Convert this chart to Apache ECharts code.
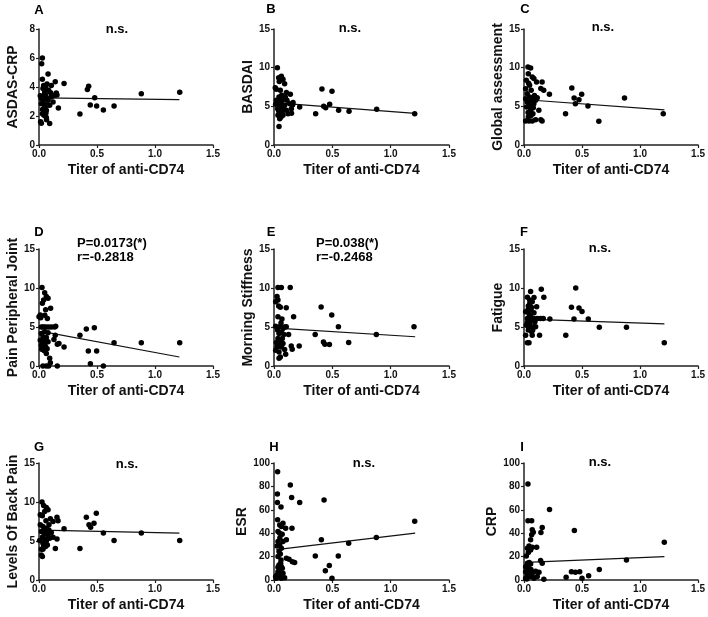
<!DOCTYPE html>
<html>
<head>
<meta charset="utf-8">
<script src="https://cdn.jsdelivr.net/npm/echarts@6/dist/echarts.min.js"></script>
<style>
  html, body { margin: 0; padding: 0; background: #fff; }
  #chart { width: 708px; height: 617px; }
</style>
</head>
<body>
<div id="chart"></div>
<script>
// panel letters and y axis names
const letters = ['A', 'B', 'C', 'D', 'E', 'F', 'G', 'H', 'I']
const yNames = ['ASDAS-CRP', 'BASDAI', 'Global assessment', 'Pain Peripheral Joint', 'Morning Stiffness',
  'Fatigue', 'Levels Of Back Pain', 'ESR', 'CRP']
const xName = 'Titer of anti-CD74'
const xTicks = [0, 0.5, 1.0, 1.5]
const yMax = [8, 15, 15, 15, 15, 15, 15, 100, 100]
const yStep = [2, 5, 5, 5, 5, 5, 5, 20, 20]

// [titer, score]
const ptsA = [[0.029,6.0],[0.023,5.6],[0.029,4.53],[0.078,4.9],[0.14,4.37],[0.216,4.25],[0.106,4.1],[0.417,3.82],[0.428,4.05],[0.882,3.54],[1.213,3.63],[0.48,3.26],[0.353,2.14],[0.442,2.76],[0.497,2.69],[0.555,2.41],[0.647,2.69],[0.167,2.55],[0.092,1.49],[0.014,1.6],[0.02,1.5],[0.063,1.9],[0.011,3.4],[0.034,3.9],[0.049,3.66],[0.063,3.3],[0.034,3.1],[0.02,2.85],[0.049,2.6],[0.063,2.4],[0.029,2.16],[0.043,2.05],[0.078,3.08],[0.092,2.74],[0.121,2.97],[0.149,3.59],[0.135,3.43],[0.106,3.31],[0.057,3.95],[0.083,3.77],[0.02,3.2],[0.04,4.1],[0.069,4.2],[0.054,3.5],[0.045,2.85],[0.07,2.75],[0.05,3.2],[0.04,3.4],[0.1,3.6],[0.155,3.45],[0.06,2.2],[0.065,1.75],[0.03,2.45]]
const ptsB = [[0.029,10.0],[0.011,7.4],[0.04,8.7],[0.063,8.9],[0.077,8.5],[0.043,2.4],[0.049,3.4],[0.106,6.8],[0.14,6.55],[0.163,5.5],[0.22,4.9],[0.357,4.05],[0.411,7.24],[0.426,5.0],[0.443,4.83],[0.477,5.26],[0.497,6.94],[0.554,4.48],[0.643,4.35],[0.88,4.61],[1.206,4.05],[0.02,5.78],[0.034,5.34],[0.049,4.9],[0.063,4.27],[0.043,6.2],[0.071,5.78],[0.091,5.13],[0.106,4.48],[0.12,4.05],[0.134,5.34],[0.149,4.7],[0.077,3.84],[0.034,3.84],[0.054,7.07],[0.091,7.93],[0.014,5.26],[0.083,4.7],[0.111,5.78],[0.066,6.42],[0.031,4.7],[0.097,6.2],[0.02,7.2],[0.045,8.2],[0.06,5.5],[0.05,6.0],[0.07,4.1],[0.15,4.1],[0.16,5.2],[0.04,4.4],[0.058,3.6]]
const ptsC = [[0.034,10.1],[0.057,9.96],[0.037,9.2],[0.071,8.8],[0.085,8.6],[0.108,8.15],[0.156,8.15],[0.02,8.36],[0.145,7.3],[0.17,7.07],[0.219,6.55],[0.412,7.37],[0.432,6.08],[0.443,5.34],[0.474,5.86],[0.497,6.55],[0.551,5.04],[0.645,3.06],[0.358,4.05],[0.866,6.08],[1.2,4.05],[0.145,3.28],[0.156,3.1],[0.128,4.48],[0.1,3.28],[0.014,3.1],[0.043,3.1],[0.071,3.1],[0.014,7.28],[0.028,6.64],[0.048,6.2],[0.065,5.78],[0.043,5.34],[0.023,4.91],[0.057,4.48],[0.077,4.05],[0.037,3.62],[0.085,5.34],[0.1,5.78],[0.114,6.12],[0.014,5.99],[0.062,7.07],[0.048,7.72],[0.028,5.56],[0.08,4.83],[0.05,5.0],[0.07,6.0],[0.035,4.2],[0.06,3.8],[0.09,6.4],[0.04,8.0]]
const ptsD = [[0.026,10.06],[0.049,9.4],[0.063,8.9],[0.078,8.7],[0.04,8.47],[0.029,8.04],[0.1,7.4],[0.011,6.53],[0.0,6.3],[0.057,7.2],[0.072,6.1],[0.02,5.0],[0.034,5.0],[0.063,5.0],[0.086,5.0],[0.109,5.0],[0.135,5.0],[0.144,5.1],[0.011,3.3],[0.034,2.9],[0.057,2.45],[0.023,2.15],[0.043,2.0],[0.078,3.1],[0.063,1.6],[0.092,1.0],[0.098,0.43],[0.034,0],[0.063,0],[0.083,0],[0.158,0],[0.14,3.95],[0.129,3.4],[0.158,2.8],[0.172,2.9],[0.216,2.45],[0.353,3.95],[0.408,4.73],[0.477,4.9],[0.425,1.93],[0.497,1.93],[0.443,0.3],[0.555,0],[0.647,2.97],[0.882,2.97],[1.213,2.97],[0.02,4.17],[0.049,4.38],[0.078,4.25],[0.034,3.74],[0.02,2.66],[0.063,3.65],[0.05,6.5],[0.015,6.2],[0.045,5.0],[0.03,2.4],[0.05,2.8],[0.07,2.2],[0.04,3.3]]
const ptsE = [[0.034,10.06],[0.063,10.06],[0.139,10.06],[0.026,8.9],[0.034,8.47],[0.014,8.25],[0.04,7.7],[0.054,7.52],[0.105,7.48],[0.404,7.56],[0.495,6.53],[0.034,6.32],[0.068,6.02],[0.168,6.32],[0.552,5.03],[1.2,5.03],[0.014,5.11],[0.048,5.03],[0.077,4.8],[0.105,5.03],[0.353,4.04],[0.877,4.04],[0.085,4.04],[0.125,4.04],[0.043,4.17],[0.424,3.09],[0.436,2.79],[0.475,2.75],[0.64,3.0],[0.216,2.58],[0.148,2.58],[0.156,2.15],[0.014,2.02],[0.043,1.8],[0.063,2.45],[0.048,3.09],[0.034,3.52],[0.077,2.88],[0.054,1.16],[0.043,0.99],[0.1,1.5],[0.026,2.45],[0.091,2.1],[0.071,3.52],[0.06,5.5],[0.03,4.6],[0.055,2.7],[0.065,4.3],[0.02,3.0],[0.09,5.0]]
const ptsF = [[0.057,9.54],[0.149,9.84],[0.446,10.01],[0.171,8.81],[0.029,8.81],[0.049,8.47],[0.086,8.77],[0.071,8.25],[0.109,7.6],[0.037,7.7],[0.409,7.52],[0.474,7.43],[0.5,7.0],[0.014,6.96],[0.06,7.18],[0.086,6.83],[0.029,6.1],[0.057,6.1],[0.086,6.1],[0.114,6.1],[0.143,6.1],[0.166,6.1],[0.223,6.02],[0.431,6.02],[0.554,6.02],[0.049,5.46],[0.08,5.03],[0.1,5.03],[0.649,4.98],[0.883,4.98],[0.014,3.95],[0.071,3.95],[0.134,3.95],[0.36,3.95],[0.029,2.97],[0.043,2.97],[1.209,2.97],[0.037,4.6],[0.066,4.38],[0.02,5.24],[0.094,5.67],[0.057,6.32],[0.04,5.0],[0.07,5.8],[0.035,7.2],[0.05,8.0],[0.075,4.6],[0.045,6.6],[0.03,5.6],[0.065,7.5]]
const ptsG = [[0.026,9.99],[0.04,9.56],[0.063,9.3],[0.078,9.0],[0.049,8.79],[0.011,8.36],[0.029,8.23],[0.098,7.84],[0.155,8.06],[0.121,7.5],[0.164,7.59],[0.408,8.06],[0.494,8.57],[0.474,7.29],[0.431,7.07],[0.445,6.77],[0.216,6.56],[0.011,7.07],[0.034,6.86],[0.063,6.64],[0.086,7.07],[0.02,6.21],[0.049,5.91],[0.078,5.66],[0.106,6.09],[0.121,5.49],[0.155,5.27],[0.555,6.04],[0.882,6.04],[0.647,5.06],[1.213,5.06],[0.006,5.06],[0.034,4.71],[0.063,5.01],[0.092,5.36],[0.141,4.03],[0.353,4.03],[0.02,3.94],[0.034,3.94],[0.02,3.21],[0.029,3.0],[0.057,4.29],[0.072,4.5],[0.045,6.3],[0.06,7.6],[0.03,5.5],[0.05,5.2],[0.07,6.0],[0.04,4.4],[0.085,6.4]]
const ptsH = [[0.031,92.6],[0.14,81.1],[0.029,73.4],[0.151,70.6],[0.029,66.3],[0.22,66.3],[0.429,68.3],[0.06,62.3],[0.031,51.4],[1.206,50.3],[0.077,48.6],[0.049,47.1],[0.063,45.7],[0.154,44.3],[0.1,44.3],[0.034,41.4],[0.049,40.0],[0.406,34.3],[0.106,34.3],[0.077,32.9],[0.877,36.3],[0.64,31.4],[0.034,32.9],[0.049,30],[0.026,29.1],[0.063,27.1],[0.043,24.3],[0.054,22.3],[0.034,20],[0.106,18.6],[0.129,17.7],[0.157,15.7],[0.177,14.9],[0.354,20.6],[0.551,20.6],[0.474,12.3],[0.44,8.0],[0.497,1.4],[0.014,2.9],[0.026,4.3],[0.043,5.7],[0.034,7.1],[0.049,9.1],[0.063,11.4],[0.043,12.9],[0.057,14.3],[0.071,10],[0.077,5.7],[0.091,2],[0.02,1.4],[0.063,1.4],[0.049,3.4],[0.034,10.9],[0.06,17],[0.05,36],[0.07,39]]
const ptsI = [[0.034,82],[0.034,50.6],[0.066,50.6],[0.22,60.3],[0.157,44.9],[0.146,40.6],[0.071,42.9],[0.08,40.9],[0.066,38.6],[0.057,34.3],[0.434,42.3],[1.209,32.3],[0.883,17.1],[0.043,29.1],[0.029,27.1],[0.057,25.7],[0.071,28],[0.109,28],[0.037,23.4],[0.02,20.6],[0.143,16.6],[0.157,14.3],[0.029,14.3],[0.057,13.7],[0.014,11.4],[0.014,7.1],[0.043,8.6],[0.071,5.7],[0.1,7.4],[0.129,6.6],[0.029,4.3],[0.057,2.9],[0.086,1.4],[0.114,2.9],[0.014,1.4],[0.171,0.6],[0.363,2.3],[0.409,7.1],[0.443,6.6],[0.48,7.1],[0.5,1.4],[0.557,3.7],[0.649,8.9],[0.04,10],[0.06,9],[0.05,5],[0.03,6],[0.07,3],[0.045,15],[0.025,0.8]]
const points = [ptsA, ptsB, ptsC, ptsD, ptsE, ptsF, ptsG, ptsH, ptsI]

// regression lines (end points)
const fitA = [[0.02, 3.25], [1.21, 3.13]]
const fitB = [[0.02, 5.45], [1.21, 4.1]]
const fitC = [[0.02, 5.85], [1.21, 4.55]]
const fitD = [[0.02, 4.45], [1.21, 1.15]]
const fitE = [[0.02, 4.85], [1.21, 3.75]]
const fitF = [[0.02, 6.0], [1.21, 5.4]]
const fitG = [[0.02, 6.4], [1.21, 6.0]]
const fitH = [[0.02, 26], [1.21, 40]]
const fitI = [[0.02, 15], [1.21, 20]]
const fits = [fitA, fitB, fitC, fitD, fitE, fitF, fitG, fitH, fitI]

// stats text per panel
const notes = ['n.s.', 'n.s.', 'n.s.', 'P=0.0173(*)\nr=-0.2818', 'P=0.038(*)\nr=-0.2468', 'n.s.', 'n.s.', 'n.s.', 'n.s.']

const FONT = '"Liberation Sans", Arial, sans-serif'

// plot boxes
const cols = [{ left: 39, width: 174 }, { left: 274, width: 175 }, { left: 524, width: 176 }]
const rows = [{ top: 29, height: 116 }, { top: 249, height: 117 }, { top: 463, height: 117 }]
const letterPos = [[39, 10], [271, 9], [525, 9], [39, 232], [271, 232], [524, 232], [39, 447], [274, 447], [522, 447]]
const notePos = [[117, 29], [350, 28], [603, 27], [77, 250], [316, 250], [600, 248], [127, 464], [364, 463], [600, 462]]

let grid = []
let xAxis = []
let yAxis = []
let series = []
let graphic = []

letters.forEach((l, i) => {
  let c = cols[i % 3]
  let r = rows[Math.floor(i / 3)]
  grid.push({ left: c.left, width: c.width, top: r.top, height: r.height })
  let axisLine = { lineStyle: { color: '#222', width: 1.5 } }
  let axisTick = { inside: false, length: 3, lineStyle: { color: '#222', width: 1.2 } }
  xAxis.push({
    gridIndex: i,
    type: 'value',
    min: 0,
    max: 1.5,
    interval: 0.5,
    name: xName,
    nameLocation: 'middle',
    nameGap: 18,
    nameTextStyle: { color: '#111', fontSize: 14, fontWeight: 'bold', fontFamily: FONT },
    axisLine: axisLine,
    axisTick: axisTick,
    splitLine: { show: false },
    axisLabel: {
      color: '#111',
      fontSize: 10,
      fontWeight: 'bold',
      fontFamily: FONT,
      margin: 4,
      formatter: v => v.toFixed(1)
    }
  })
  yAxis.push({
    gridIndex: i,
    type: 'value',
    min: 0,
    max: yMax[i],
    interval: yStep[i],
    name: yNames[i],
    nameLocation: 'middle',
    nameGap: 19,
    nameTextStyle: { color: '#111', fontSize: 14, fontWeight: 'bold', fontFamily: FONT },
    axisLine: { show: true, lineStyle: axisLine.lineStyle },
    axisTick: { show: true, length: 3, lineStyle: { color: '#222', width: 1.2 } },
    splitLine: { show: false },
    axisLabel: { color: '#111', fontSize: 10, fontWeight: 'bold', fontFamily: FONT, margin: 4 }
  })
  series.push({
    type: 'line',
    xAxisIndex: i,
    yAxisIndex: i,
    data: fits[i],
    symbol: 'none',
    lineStyle: { color: '#111', width: 1.2 },
    silent: true,
    z: 1
  })
  series.push({
    type: 'scatter',
    xAxisIndex: i,
    yAxisIndex: i,
    data: points[i],
    symbolSize: 5.5,
    itemStyle: { color: '#000', opacity: 1 },
    z: 2
  })
  graphic.push({
    type: 'text',
    x: letterPos[i][0],
    y: letterPos[i][1],
    style: { text: l, font: 'bold 13px ' + FONT, fill: '#000', textAlign: 'center', textVerticalAlign: 'middle' }
  })
  let multi = notes[i].indexOf('\n') > -1
  graphic.push({
    type: 'text',
    x: notePos[i][0],
    y: notePos[i][1],
    style: {
      text: notes[i],
      font: 'bold 13px ' + FONT,
      lineHeight: 14,
      fill: '#000',
      textAlign: multi ? 'left' : 'center',
      textVerticalAlign: 'middle'
    }
  })
})

let myChart = echarts.init(document.getElementById('chart'))
myChart.setOption({
  animation: false,
  backgroundColor: '#fff',
  grid: grid,
  xAxis: xAxis,
  yAxis: yAxis,
  series: series,
  graphic: graphic
})
</script>
</body>
</html>
